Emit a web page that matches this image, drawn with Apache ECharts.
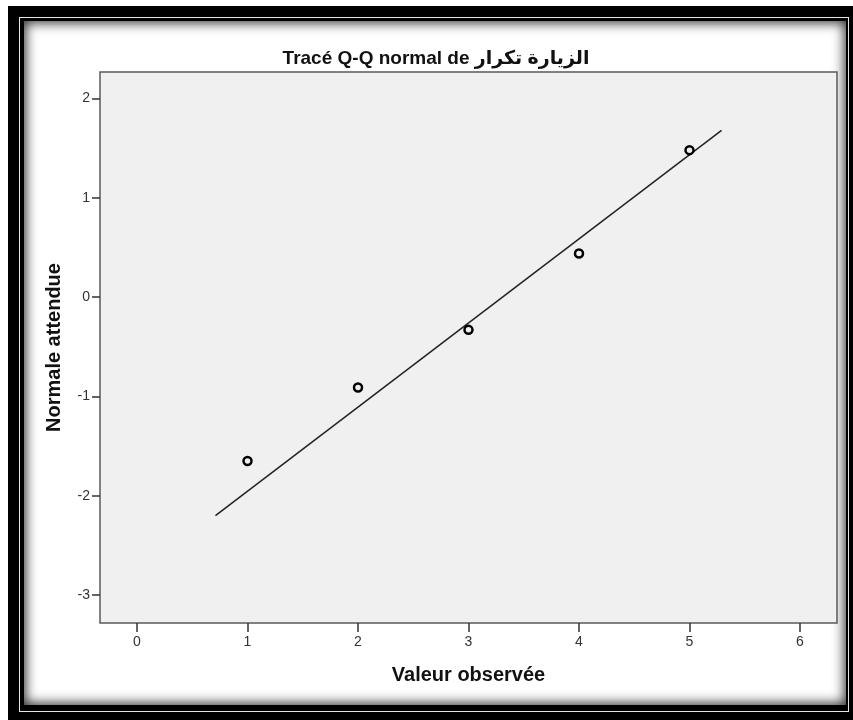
<!DOCTYPE html>
<html>
<head>
<meta charset="utf-8">
<script src="https://cdn.jsdelivr.net/npm/echarts@6/dist/echarts.min.js"></script>
<style>
  html, body { margin: 0; padding: 0; background: #fff; width: 853px; height: 720px; overflow: hidden; }
  .outer { position: absolute; left: 8px; top: 6px; width: 845px; height: 714px; background: #000; }
  .rule { position: absolute; left: 19px; top: 17px; width: 830px; height: 695px; box-sizing: border-box; border: 1.5px solid #e6e6e6; }
  .panel { position: absolute; left: 24px; top: 21px; width: 822px; height: 684px; background: #fff;
           box-shadow: inset 0 0 12px 2px rgba(0,0,0,0.8); }
  #chart { position: absolute; left: 0; top: 0; width: 853px; height: 720px; }
</style>
</head>
<body>
<div class="outer"></div>
<div class="rule"></div>
<div class="panel"></div>
<div id="chart"></div>
<script>
// ---- data ----
const titleText = 'Tracé Q-Q normal de الزيارة تكرار';
const xAxisName = 'Valeur observée';
const yAxisName = 'Normale attendue';
const observedValues = [1, 2, 3, 4, 5];
const expectedNormal = [-1.65, -0.91, -0.33, 0.44, 1.48];
const refLineX = [0.71, 5.29];
const refLineY = [-2.20, 1.68];
const xTicks = [0, 1, 2, 3, 4, 5, 6];
const yTicks = [-3, -2, -1, 0, 1, 2];

const font = '"Liberation Sans", Arial, "DejaVu Sans", sans-serif';

const chart = echarts.init(document.getElementById('chart'), null, { renderer: 'canvas' });
const option = {
  animation: false,
  backgroundColor: 'transparent',
  graphic: [{
    type: 'text',
    x: 436, y: 59,
    style: {
      text: titleText,
      fontFamily: font, fontWeight: 'bold', fontSize: 19,
      fill: '#111', textAlign: 'center', textVerticalAlign: 'middle'
    }
  }],
  grid: {
    left: 100, top: 72, right: 16, bottom: 97,
    show: true, backgroundColor: '#f0f0f0', borderColor: '#5a5a5a', borderWidth: 1.5
  },
  xAxis: {
    type: 'value', min: -0.335, max: 6.335,
    name: xAxisName, nameLocation: 'middle', nameGap: 42,
    nameTextStyle: { fontFamily: font, fontWeight: 'bold', fontSize: 20, color: '#111' },
    axisLine: { show: false, onZero: false },
    axisTick: { show: true, length: 9, customValues: xTicks, lineStyle: { color: '#333', width: 1.5 } },
    axisLabel: { customValues: xTicks, margin: 12, fontFamily: font, fontSize: 14, color: '#333' },
    splitLine: { show: false }
  },
  yAxis: {
    type: 'value', min: -3.282, max: 2.267,
    name: yAxisName, nameLocation: 'middle', nameGap: 36, nameRotate: 90,
    nameTextStyle: { fontFamily: font, fontWeight: 'bold', fontSize: 20, color: '#111' },
    axisLine: { show: false, onZero: false },
    axisTick: { show: true, length: 8, customValues: yTicks, lineStyle: { color: '#333', width: 1.5 } },
    axisLabel: { customValues: yTicks, margin: 10, fontFamily: font, fontSize: 14, color: '#333' },
    splitLine: { show: false }
  },
  series: [
    {
      type: 'line',
      data: refLineX.map((x, i) => [x, refLineY[i]]),
      showSymbol: false, symbol: 'none',
      lineStyle: { color: '#222', width: 1.5 },
      z: 2, silent: true
    },
    {
      type: 'scatter',
      data: observedValues.map((x, i) => [x, expectedNormal[i]]),
      symbol: 'circle', symbolSize: 8,
      itemStyle: { color: '#f0f0f0', borderColor: '#000', borderWidth: 2.5, opacity: 1 },
      z: 3
    }
  ]
};
chart.setOption(option);
</script>
</body>
</html>
